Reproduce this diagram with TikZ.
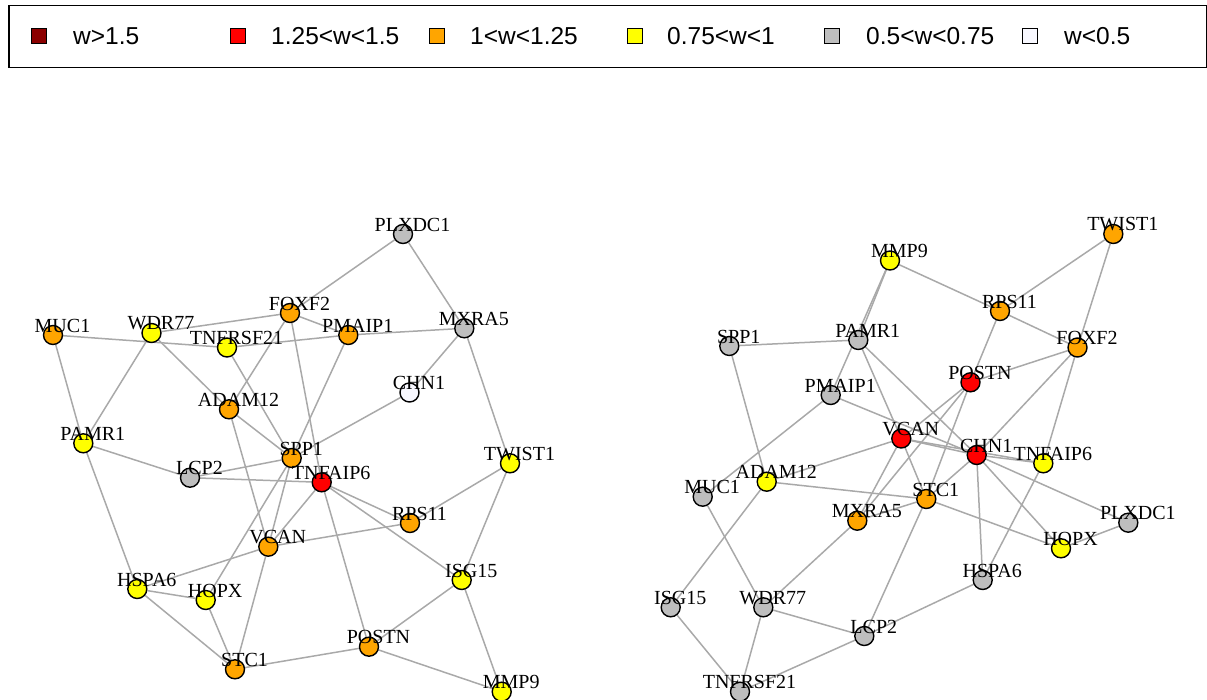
\documentclass[tikz,border=0pt]{standalone}
\usepackage{fontspec}
\setmainfont{Liberation Serif}
\newfontfamily\legfont{Liberation Sans}
\usetikzlibrary{backgrounds}
\definecolor{cDR}{HTML}{8B0000}
\definecolor{cR}{HTML}{FF0000}
\definecolor{cO}{HTML}{FFA500}
\definecolor{cY}{HTML}{FFFF00}
\definecolor{cG}{HTML}{BEBEBE}
\definecolor{cW}{HTML}{F8F8FF}
\definecolor{cE}{HTML}{A9A9A9}
\tikzset{
  vtx/.style={circle, draw=black, line width=1.4pt, minimum size=19pt, inner sep=0pt, fill=#1},
  lbl/.style={inner sep=0pt, font=\fontsize{20}{22}\selectfont},
  edge/.style={draw=cE, line width=1.5pt},
  legsq/.style={draw=black, line width=1.3pt, minimum size=15pt, inner sep=0pt, fill=#1},
  legtx/.style={anchor=west, inner sep=0pt, font=\legfont\fontsize{24.5}{26}\selectfont},
}
\newcommand{\gnode}[5]{% name, x, y, color, text
  \node[vtx=#4] (#1) at (#2,#3) {};
  \node[lbl] (#1-lab) at (#2+9.5,#3-9.5) {#5};
}
\begin{document}
\begin{tikzpicture}[x=1pt,y=-1pt]
\useasboundingbox (0,0) rectangle (1207,700);
\begin{scope}
\clip (0,0) rectangle (1207,700);
% legend
\node[draw=black, line width=1.5pt, minimum width=1198pt, minimum height=62pt, inner sep=0pt, anchor=north west] (legbox) at (8,5) {};
\node[legsq=cDR] (sq1) at (39,36) {};  \node[legtx] (tx1) at (73,36) {w>1.5};
\node[legsq=cR]  (sq2) at (238,36) {}; \node[legtx] (tx2) at (271,36) {1.25<w<1.5};
\node[legsq=cO]  (sq3) at (437,36) {}; \node[legtx] (tx3) at (470,36) {1<w<1.25};
\node[legsq=cY]  (sq4) at (635,36) {}; \node[legtx] (tx4) at (667,36) {0.75<w<1};
\node[legsq=cG]  (sq5) at (832,36) {}; \node[legtx] (tx5) at (866,36) {0.5<w<0.75};
\node[legsq=cW]  (sq6) at (1030,36) {};\node[legtx] (tx6) at (1064,36) {w<0.5};

% left graph vertices
\gnode{LPLXDC1}{403}{234}{cG}{PLXDC1}
\gnode{LFOXF2}{290}{313}{cO}{FOXF2}
\gnode{LMUC1}{53}{335}{cO}{MUC1}
\gnode{LWDR77}{151.5}{333}{cY}{WDR77}
\gnode{LTNFRSF21}{227}{347.5}{cY}{TNFRSF21}
\gnode{LPMAIP1}{348.3}{335}{cO}{PMAIP1}
\gnode{LMXRA5}{464.3}{328.3}{cG}{MXRA5}
\gnode{LCHN1}{409.5}{392.5}{cW}{CHN1}
\gnode{LADAM12}{229}{409.3}{cO}{ADAM12}
\gnode{LPAMR1}{83.3}{443.3}{cY}{PAMR1}
\gnode{LSPP1}{291.7}{458}{cO}{SPP1}
\gnode{LLCP2}{190}{477.7}{cG}{LCP2}
\gnode{LTNFAIP6}{321.7}{482.3}{cR}{TNFAIP6}
\gnode{LTWIST1}{510}{463.3}{cY}{TWIST1}
\gnode{LRPS11}{410}{523}{cO}{RPS11}
\gnode{LVCAN}{268.3}{546.7}{cO}{VCAN}
\gnode{LISG15}{461.7}{580}{cY}{ISG15}
\gnode{LHSPA6}{137.3}{589}{cY}{HSPA6}
\gnode{LHOPX}{205.7}{600}{cY}{HOPX}
\gnode{LPOSTN}{369}{646.7}{cO}{POSTN}
\gnode{LSTC1}{235}{669.3}{cO}{STC1}
\gnode{LMMP9}{501.7}{691.7}{cY}{MMP9}

% right graph vertices
\gnode{RTWIST1}{1113.3}{234}{cO}{TWIST1}
\gnode{RMMP9}{890}{260.5}{cY}{MMP9}
\gnode{RRPS11}{1000}{311}{cO}{RPS11}
\gnode{RSPP1}{729.3}{346}{cG}{SPP1}
\gnode{RPAMR1}{858.3}{340}{cG}{PAMR1}
\gnode{RFOXF2}{1077.5}{347.5}{cO}{FOXF2}
\gnode{RPOSTN}{970.5}{382.3}{cR}{POSTN}
\gnode{RPMAIP1}{830.7}{395}{cG}{PMAIP1}
\gnode{RVCAN}{901.3}{438.5}{cR}{VCAN}
\gnode{RCHN1}{976.7}{455}{cR}{CHN1}
\gnode{RTNFAIP6}{1043.3}{463.3}{cY}{TNFAIP6}
\gnode{RADAM12}{766.7}{481.7}{cY}{ADAM12}
\gnode{RMUC1}{702.7}{496.7}{cG}{MUC1}
\gnode{RSTC1}{926.3}{499}{cO}{STC1}
\gnode{RMXRA5}{857.3}{520.7}{cO}{MXRA5}
\gnode{RPLXDC1}{1128.3}{522.7}{cG}{PLXDC1}
\gnode{RHOPX}{1061}{548.3}{cY}{HOPX}
\gnode{RHSPA6}{982.7}{580}{cG}{HSPA6}
\gnode{RISG15}{670.7}{607.3}{cG}{ISG15}
\gnode{RWDR77}{763.3}{607.3}{cG}{WDR77}
\gnode{RLCP2}{864.3}{636}{cG}{LCP2}
\gnode{RTNFRSF21}{740}{691.7}{cG}{TNFRSF21}

\begin{pgfonlayer}{background}
% left edges
\foreach \a/\b in {PLXDC1/FOXF2, PLXDC1/MXRA5, MUC1/TNFRSF21, TNFRSF21/PMAIP1, PMAIP1/MXRA5,
  WDR77/FOXF2, FOXF2/PMAIP1, WDR77/PAMR1, MUC1/PAMR1, PAMR1/HSPA6, WDR77/ADAM12, ADAM12/SPP1,
  TNFRSF21/SPP1, FOXF2/ADAM12, FOXF2/TNFAIP6, PMAIP1/SPP1, CHN1/SPP1, MXRA5/CHN1, MXRA5/TWIST1,
  PAMR1/LCP2, LCP2/SPP1, LCP2/TNFAIP6, TNFAIP6/RPS11, TNFAIP6/ISG15, TNFAIP6/VCAN, TNFAIP6/POSTN,
  RPS11/TWIST1, RPS11/VCAN, HSPA6/VCAN, TWIST1/ISG15, ISG15/MMP9, ISG15/POSTN, POSTN/MMP9,
  POSTN/STC1, STC1/VCAN, STC1/HOPX, STC1/HSPA6, HSPA6/HOPX, HOPX/SPP1, SPP1/VCAN, ADAM12/VCAN}
  {\draw[edge] (L\a) -- (L\b);}
% right edges
\foreach \a/\b in {TWIST1/RPS11, TWIST1/FOXF2, MMP9/RPS11, MMP9/PAMR1, MMP9/PMAIP1, RPS11/FOXF2,
  RPS11/POSTN, FOXF2/POSTN, FOXF2/CHN1, FOXF2/TNFAIP6, PAMR1/SPP1, PAMR1/VCAN, PAMR1/CHN1,
  PMAIP1/CHN1, PMAIP1/MUC1, SPP1/ADAM12, POSTN/VCAN, POSTN/MXRA5, POSTN/STC1, VCAN/CHN1,
  VCAN/TNFAIP6, VCAN/ADAM12, VCAN/MXRA5, VCAN/STC1, CHN1/TNFAIP6, CHN1/STC1, CHN1/HSPA6,
  CHN1/HOPX, CHN1/PLXDC1, TNFAIP6/HSPA6, ADAM12/STC1, ADAM12/ISG15, MUC1/WDR77, WDR77/MXRA5,
  WDR77/LCP2, WDR77/TNFRSF21, ISG15/TNFRSF21, TNFRSF21/LCP2, LCP2/HSPA6, LCP2/STC1, STC1/MXRA5,
  STC1/HOPX, HOPX/PLXDC1}
  {\draw[edge] (R\a) -- (R\b);}
\end{pgfonlayer}
\end{scope}
\end{tikzpicture}
\end{document}
